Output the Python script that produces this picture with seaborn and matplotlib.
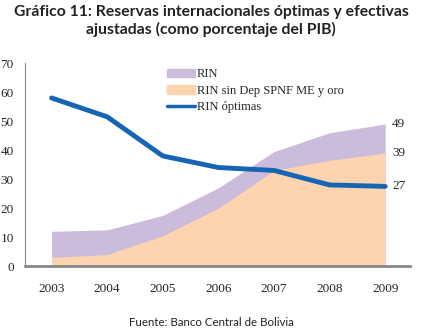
import pandas as pd
import seaborn as sns
import matplotlib.pyplot as plt
from matplotlib.patches import Patch
from matplotlib.lines import Line2D

years = [2003, 2004, 2005, 2006, 2007, 2008, 2009]
rin = [12, 12.5, 17.5, 27, 39.5, 46, 49]
rin_sin = [3, 4, 10.5, 20, 33, 36.5, 39]
rin_optimas = [58, 51.5, 38, 34, 33, 28, 27.5]

df = pd.DataFrame({"anio": years, "rin": rin, "rin_sin": rin_sin, "opt": rin_optimas})

sns.set_style("white")
fig = plt.figure(figsize=(4.22, 3.36), dpi=100)
ax = fig.add_axes([0.059, 0.208, 0.913, 0.604])

purple = "#cbbcdc"
orange = "#fdd3b0"
blue = "#1565b4"

ax.fill_between(df["anio"], 0, df["rin"], color=purple, lw=0)
ax.fill_between(df["anio"], 0, df["rin_sin"], color=orange, lw=0)
sns.lineplot(data=df, x="anio", y="opt", color=blue, lw=3.5, ax=ax)

ax.set_xlim(2002.52, 2009.45)
ax.set_ylim(0, 70)
ax.set_xticks(years)
ax.set_yticks(range(0, 71, 10))
ax.set_xlabel("")
ax.set_ylabel("")
serif = {"family": "Liberation Serif", "size": 9.5}
ax.set_xticklabels([str(y) for y in years], fontdict=serif)
ax.set_yticklabels([str(v) for v in range(0, 71, 10)], fontdict=serif)
ax.tick_params(axis="x", pad=12, length=0)
ax.tick_params(axis="y", pad=8, length=0)
for s in ["top", "right"]:
    ax.spines[s].set_visible(False)
ax.spines["left"].set_color("#888888")
ax.spines["left"].set_linewidth(0.8)
ax.spines["bottom"].set_color("#888888")
ax.spines["bottom"].set_linewidth(2)

for v, lab in [(rin[-1], "49"), (rin_sin[-1], "39"), (rin_optimas[-1], "27")]:
    ax.annotate(lab, (years[-1], v), xytext=(5, 0), textcoords="offset points",
                va="center", ha="left", fontsize=9.5, family="Liberation Serif")

handles = [Patch(color=purple, label="RIN"),
           Patch(color=orange, label="RIN sin Dep SPNF ME y oro"),
           Line2D([], [], color=blue, lw=2.5, label="RIN óptimas")]
ax.legend(handles=handles, loc="upper left", bbox_to_anchor=(0.34, 1.03), frameon=False,
          prop={"family": "Liberation Serif", "size": 9}, handlelength=2.2,
          handletextpad=0.2, labelspacing=0.35)

fig.text(0.5, 0.965, "Gráfico 11: Reservas internacionales óptimas y efectivas",
         ha="center", va="center", fontsize=11.3, fontweight="bold", family="Lato", color="#222222")
fig.text(0.5, 0.912, "ajustadas (como porcentaje del PIB)",
         ha="center", va="center", fontsize=11.3, fontweight="bold", family="Lato", color="#222222")
fig.text(0.5, 0.04, "Fuente: Banco Central de Bolivia", ha="center", va="center",
         fontsize=8.3, family="Lato", color="#222222")

fig.savefig("out.png", dpi=100)
